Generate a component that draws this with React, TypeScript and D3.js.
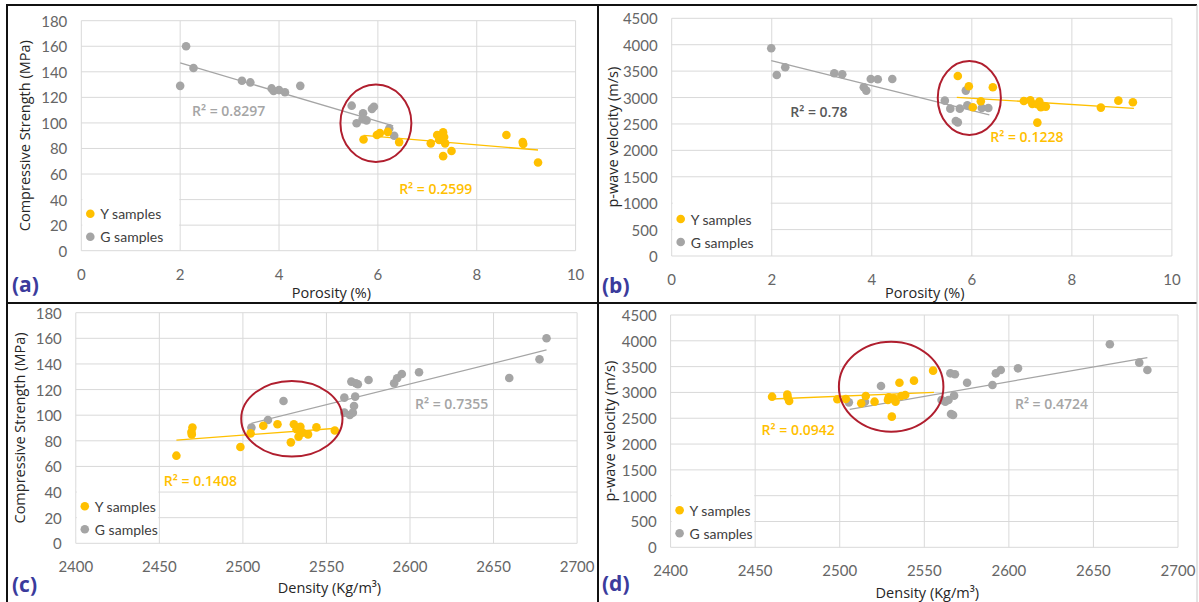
import React, { useEffect, useRef } from 'react';
import * as d3 from 'd3';

// ---- data ----
// (a) porosity (%) vs compressive strength (MPa)
const aYellow = [[5.71, 87], [5.98, 90.5], [6.04, 92], [6.2, 93], [6.43, 85], [7.07, 84], [7.2, 90.5], [7.24, 86.6], [7.32, 92.6], [7.34, 89], [7.36, 84], [7.32, 74], [7.49, 78], [8.6, 90.5], [8.93, 85], [8.94, 83.5], [9.24, 69]];
const aGray = [[2.0, 129], [2.12, 160], [2.27, 143], [3.25, 133], [3.42, 131.7], [3.85, 127], [3.89, 125], [4.0, 125.7], [4.12, 124], [4.43, 129], [5.47, 113.5], [5.57, 99.7], [5.7, 107.5], [5.69, 103], [5.77, 102], [5.88, 111], [5.92, 112.7], [6.23, 95.7], [6.33, 90]];
const aTrendY = [[5.71, 90.3], [9.24, 78.8]];
const aTrendG = [[2.0, 147], [6.31, 97.6]];

// (b) porosity (%) vs p-wave velocity (m/s)
const bYellow = [[5.72, 3408], [5.94, 3213], [6.02, 2815], [6.18, 2929], [6.42, 3194], [7.04, 2935], [7.17, 2947], [7.21, 2878], [7.31, 2872], [7.35, 2922], [7.38, 2815], [7.44, 2840], [7.48, 2828], [7.31, 2525], [8.58, 2809], [8.93, 2941], [9.22, 2910]];
const bGray = [[1.99, 3932], [2.1, 3427], [2.27, 3572], [3.25, 3459], [3.41, 3440], [3.84, 3194], [3.89, 3131], [3.98, 3351], [4.12, 3345], [4.41, 3351], [5.46, 2941], [5.57, 2790], [5.68, 2556], [5.72, 2530], [5.76, 2790], [5.88, 3131], [5.91, 2853], [6.2, 2802], [6.33, 2802]];
const bTrendY = [[5.7, 3004], [9.24, 2796]];
const bTrendG = [[1.99, 3699], [6.35, 2670]];

// (c) density vs compressive strength
const cYellow = [[2460.2, 68.4], [2469.2, 86.9], [2469.8, 90.3], [2469.4, 85], [2498.5, 75.2], [2504.6, 85.8], [2512.2, 91.8], [2520.7, 92.9], [2528.7, 78.8], [2530.5, 92.9], [2532.1, 89], [2533.3, 83.2], [2534.4, 91], [2535.6, 86.4], [2539, 85], [2544, 90.5], [2555, 88]];
const cGray = [[2505.1, 90.3], [2515, 96.3], [2524.3, 111.1], [2560.7, 113.7], [2560.7, 102], [2564, 100.2], [2564.9, 126.2], [2566.5, 107.2], [2567.2, 114.5], [2567.6, 124.9], [2568.8, 124.1], [2565.8, 102], [2575.2, 127.5], [2590.5, 124.9], [2592.3, 128.8], [2595.1, 132.2], [2605.4, 133.5], [2659.4, 129], [2677.5, 143.6], [2681.7, 160]];
const cTrendY = [[2460.2, 80.6], [2556.2, 89.8]];
const cTrendG = [[2505.1, 93.7], [2681.7, 150.9]];

// (d) density vs p-wave velocity
const dYellow = [[2460, 2918], [2469, 2957], [2469.2, 2905], [2470.1, 2834], [2498.6, 2867], [2503.6, 2873], [2512.7, 2789], [2515.4, 2931], [2520.6, 2821], [2529, 2905], [2528.5, 2854], [2530.8, 2531], [2531.9, 2886], [2533, 2821], [2535.3, 3189], [2536.4, 2931], [2538.7, 2950], [2543.9, 3228], [2555.2, 3422]];
const dGray = [[2505.4, 2808], [2514.9, 2821], [2524.4, 3125], [2560.2, 2854], [2562.4, 2821], [2564.3, 2854], [2565.4, 3370], [2565.8, 2583], [2567, 2563], [2568.1, 3351], [2567.6, 2938], [2575.3, 3189], [2590.3, 3144], [2592.3, 3370], [2595.2, 3435], [2605.4, 3467], [2659.7, 3932], [2677.1, 3577], [2681.9, 3435]];
const dTrendY = [[2460, 2873], [2555.7, 3002]];
const dTrendG = [[2505.9, 2673], [2681.9, 3674]];

const porosityTicks = [0, 2, 4, 6, 8, 10];
const densityTicks = [2400, 2450, 2500, 2550, 2600, 2650, 2700];
const strengthTicks = [0, 20, 40, 60, 80, 100, 120, 140, 160, 180];
const velocityTicks = [0, 500, 1000, 1500, 2000, 2500, 3000, 3500, 4000, 4500];

const YELLOW = '#FFC000';
const GRAY = '#A5A5A5';
const RED = '#B01E2E';
const LABEL_BLUE = '#3B3B9C';

const PANELS = [
  {
    id: 'a', box: { left: 81.3, right: 575.6, top: 20.7, bottom: 250.7 },
    xTicks: porosityTicks, yTicks: strengthTicks,
    xTitle: 'Porosity (%)', yTitle: 'Compressive Strength (MPa)',
    xTitleY: 292, yTitleX: 24, tag: { x: 12, y: 284 },
    yellow: aYellow, gray: aGray, trendY: aTrendY, trendG: aTrendG,
    ellipse: [5.96, 99.7, 0.718, 30.3],
    r2G: { text: 'R² = 0.8297', at: [2.24, 109.6], color: GRAY },
    r2Y: { text: 'R² = 0.2599', at: [6.43, 48.8] },
  },
  {
    id: 'b', box: { left: 671.7, right: 1171.9, top: 18.3, bottom: 256 },
    xTicks: porosityTicks, yTicks: velocityTicks,
    xTitle: 'Porosity (%)', yTitle: 'p-wave velocity (m/s)',
    xTitleY: 292, yTitleX: 612, tag: { x: 602, y: 285 },
    yellow: bYellow, gray: bGray, trendY: bTrendY, trendG: bTrendG,
    ellipse: [5.95, 2992, 0.631, 700],
    r2G: { text: 'R² = 0.78', at: [2.37, 2733], color: '#595959' },
    r2Y: { text: 'R² = 0.1228', at: [6.37, 2260] },
  },
  {
    id: 'c', box: { left: 75.8, right: 577.1, top: 312.7, bottom: 543.3 },
    xTicks: densityTicks, yTicks: strengthTicks,
    xTitle: 'Density (Kg/m³)', yTitle: 'Compressive Strength (MPa)',
    xTitleY: 587, yTitleX: 19, tag: { x: 12, y: 584 },
    yellow: cYellow, gray: cGray, trendY: cTrendY, trendG: cTrendG,
    ellipse: [2529.3, 97.2, 30.3, 29.5],
    r2G: { text: 'R² = 0.7355', at: [2603, 109.3], color: GRAY },
    r2Y: { text: 'R² = 0.1408', at: [2452.7, 49.4] },
  },
  {
    id: 'd', box: { left: 670.6, right: 1178, top: 315, bottom: 547.3 },
    xTicks: densityTicks, yTicks: velocityTicks,
    xTitle: 'Density (Kg/m³)', yTitle: 'p-wave velocity (m/s)',
    xTitleY: 592, yTitleX: 609, tag: { x: 602, y: 583 },
    yellow: dYellow, gray: dGray, trendY: dTrendY, trendG: dTrendG,
    ellipse: [2530.4, 3112, 30.9, 872],
    r2G: { text: 'R² = 0.4724', at: [2603.6, 2776], color: GRAY },
    r2Y: { text: 'R² = 0.0942', at: [2453.8, 2285] },
  },
];

function drawPanel(svg, p) {
  const { left, right, top, bottom } = p.box;
  const x = d3.scaleLinear().domain(d3.extent(p.xTicks)).range([left, right]);
  const y = d3.scaleLinear().domain(d3.extent(p.yTicks)).range([bottom, top]);
  const g = svg.append('g');

  // gridlines
  g.selectAll('.vg').data(p.xTicks).join('line')
    .attr('x1', d => x(d)).attr('x2', d => x(d))
    .attr('y1', top).attr('y2', bottom)
    .attr('stroke', '#D9D9D9').attr('stroke-width', 1);
  g.selectAll('.hg').data(p.yTicks).join('line')
    .attr('x1', left).attr('x2', right)
    .attr('y1', d => y(d)).attr('y2', d => y(d))
    .attr('stroke', '#D9D9D9').attr('stroke-width', 1);

  // tick labels
  g.selectAll('.xt').data(p.xTicks).join('text')
    .attr('x', d => x(d)).attr('y', bottom + 23)
    .attr('text-anchor', 'middle').attr('dominant-baseline', 'central')
    .style('font-family', 'Lato, "Open Sans", sans-serif')
    .style('font-size', '15px').style('fill', '#666')
    .text(d => d);
  g.selectAll('.yt').data(p.yTicks).join('text')
    .attr('x', left - 14).attr('y', d => y(d))
    .attr('text-anchor', 'end').attr('dominant-baseline', 'central')
    .style('font-family', 'Lato, "Open Sans", sans-serif')
    .style('font-size', '15px').style('fill', '#666')
    .text(d => d);

  // axis titles
  g.append('text')
    .attr('x', (left + right) / 2 + 3).attr('y', p.xTitleY)
    .attr('text-anchor', 'middle').attr('dominant-baseline', 'central')
    .style('font-family', '"Open Sans", sans-serif').style('font-size', '14.5px')
    .style('fill', '#262626')
    .text(p.xTitle);
  g.append('text')
    .attr('transform', `translate(${p.yTitleX},${(top + bottom) / 2}) rotate(-90)`)
    .attr('text-anchor', 'middle').attr('dominant-baseline', 'central')
    .style('font-family', '"Open Sans", sans-serif').style('font-size', '14.5px')
    .style('fill', '#262626')
    .text(p.yTitle);

  // legend (white box covers the gridlines underneath)
  const legendW = x(p.xTicks[1]) - left - 2;
  g.append('rect')
    .attr('x', left + 1).attr('y', bottom - 56)
    .attr('width', legendW).attr('height', 50)
    .attr('fill', '#fff');
  const legend = [
    { label: 'Y samples', color: YELLOW, dy: 37 },
    { label: 'G samples', color: GRAY, dy: 14 },
  ];
  legend.forEach(l => {
    g.append('circle')
      .attr('cx', left + 9).attr('cy', bottom - l.dy)
      .attr('r', 4.3).attr('fill', l.color);
    g.append('text')
      .attr('x', left + 19).attr('y', bottom - l.dy)
      .attr('dominant-baseline', 'central')
      .style('font-family', 'Lato, sans-serif').style('font-size', '14px')
      .style('fill', '#404040')
      .text(l.label);
  });

  // trend lines
  const line = d3.line().x(d => x(d[0])).y(d => y(d[1]));
  g.append('path').attr('d', line(p.trendG))
    .attr('fill', 'none').attr('stroke', GRAY).attr('stroke-width', 1.3);
  g.append('path').attr('d', line(p.trendY))
    .attr('fill', 'none').attr('stroke', YELLOW).attr('stroke-width', 1.3);

  // points
  g.selectAll('.pg').data(p.gray).join('circle')
    .attr('cx', d => x(d[0])).attr('cy', d => y(d[1]))
    .attr('r', 4.3).attr('fill', GRAY);
  g.selectAll('.py').data(p.yellow).join('circle')
    .attr('cx', d => x(d[0])).attr('cy', d => y(d[1]))
    .attr('r', 4.3).attr('fill', YELLOW);

  // highlight ellipse
  const [ecx, ecy, erx, ery] = p.ellipse;
  g.append('ellipse')
    .attr('cx', x(ecx)).attr('cy', y(ecy))
    .attr('rx', x(ecx + erx) - x(ecx)).attr('ry', y(ecy) - y(ecy + ery))
    .attr('fill', 'none').attr('stroke', RED).attr('stroke-width', 2);

  // R² labels
  [
    { ...p.r2G },
    { ...p.r2Y, color: YELLOW },
  ].forEach(r => {
    g.append('text')
      .attr('x', x(r.at[0])).attr('y', y(r.at[1]))
      .attr('dominant-baseline', 'central')
      .style('font-family', '"Open Sans", sans-serif').style('font-size', '14px')
      .style('font-weight', '600').style('fill', r.color)
      .text(r.text);
  });

  // panel tag
  g.append('text')
    .attr('x', p.tag.x).attr('y', p.tag.y)
    .attr('dominant-baseline', 'central')
    .style('font-family', '"Open Sans", sans-serif').style('font-size', '21px')
    .style('font-weight', '700').style('fill', LABEL_BLUE)
    .text(`(${p.id})`);
}

export default function App() {
  const svgRef = useRef(null);

  useEffect(() => {
    const svg = d3.select(svgRef.current);
    svg.selectAll('*').remove();
    svg.append('rect').attr('width', 1199).attr('height', 602).attr('fill', '#fff');

    PANELS.forEach(p => drawPanel(svg, p));

    // frame around the four panels
    const frame = [
      [6, 5, 1197, 5],
      [7, 4, 7, 602],
      [598, 4, 598, 602],
      [6, 303, 1197, 303],
    ];
    svg.selectAll('.frame').data(frame).join('line')
      .attr('x1', d => d[0]).attr('y1', d => d[1])
      .attr('x2', d => d[2]).attr('y2', d => d[3])
      .attr('stroke', '#111').attr('stroke-width', 2);
    svg.append('line')
      .attr('x1', 1197).attr('x2', 1197).attr('y1', 5).attr('y2', 602)
      .attr('stroke', '#C8C8C8').attr('stroke-width', 1);
  }, []);

  return (
    <svg ref={svgRef} width={1199} height={602}
      style={{ position: 'absolute', left: 0, top: 0 }} />
  );
}
